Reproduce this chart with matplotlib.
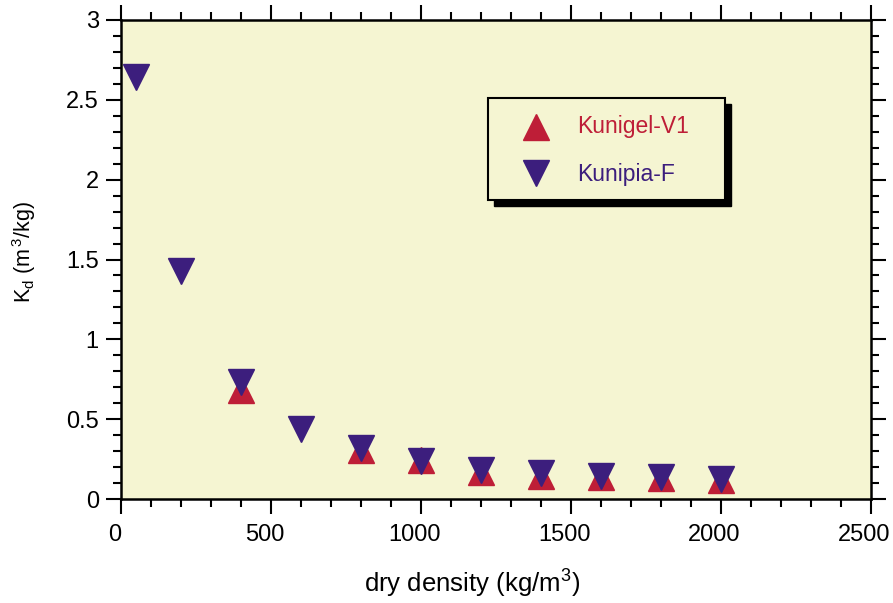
import matplotlib
matplotlib.use("Agg")
import matplotlib.pyplot as plt
from matplotlib.ticker import MultipleLocator
from matplotlib.patches import Rectangle
from matplotlib.lines import Line2D
from matplotlib.transforms import ScaledTranslation

plt.rcParams['font.family'] = ['Liberation Sans', 'DejaVu Sans']
plt.rcParams['mathtext.fontset'] = 'custom'
plt.rcParams['mathtext.rm'] = 'Liberation Sans'
plt.rcParams['mathtext.it'] = 'Liberation Sans'

# data
v1_density = [400, 800, 1000, 1200, 1400, 1600, 1800, 2000]
v1_kd = [0.68, 0.31, 0.245, 0.17, 0.145, 0.135, 0.13, 0.12]
f_density = [50, 200, 400, 600, 800, 1000, 1200, 1400, 1600, 1800, 2000]
f_kd = [2.64, 1.43, 0.73, 0.44, 0.32, 0.235, 0.18, 0.16, 0.145, 0.135, 0.125]
y_ticks = [0, 0.5, 1, 1.5, 2, 2.5, 3]
y_ticklabels = ['0', '0.5', '1', '1.5', '2', '2.5', '3']

red = '#BE1E37'
purple = '#3C1E7D'
bg = '#F5F5D2'

fig = plt.figure(figsize=(8.93, 6.03), dpi=100)
ax = fig.add_axes([121/893, 1-499/603, (870.5-121)/893, (499-20)/603])
ax.set_facecolor(bg)

ax.plot(v1_density, v1_kd, linestyle='none', marker='^', ms=19, color=red, mec=red)
ax.plot(f_density, f_kd, linestyle='none', marker='v', ms=19, color=purple, mec=purple)

ax.set_xlim(0, 2500)
ax.set_ylim(0, 3)
ax.xaxis.set_major_locator(MultipleLocator(500))
ax.xaxis.set_minor_locator(MultipleLocator(100))
ax.yaxis.set_minor_locator(MultipleLocator(0.1))
ax.set_yticks(y_ticks)
ax.set_yticklabels(y_ticklabels)
ax.tick_params(which='both', direction='out', top=True, right=True, labelsize=17,
               width=1.5, colors='black')
ax.tick_params(which='major', length=11)
ax.tick_params(which='minor', length=6)
ax.tick_params(axis='x', pad=7)
ax.tick_params(axis='y', pad=5)
for s in ax.spines.values():
    s.set_linewidth(1.8)

shift = ScaledTranslation(-6/100, 0, fig.dpi_scale_trans)
for lbl in ax.get_xticklabels():
    lbl.set_transform(lbl.get_transform() + shift)

ax.set_xlabel(r'dry density (kg/m$^{3}$)', fontsize=18.5)
ax.xaxis.set_label_coords((472-121)/749.5, (499-568)/479)
ax.set_ylabel(r'K$_{d}$ (m$^{\,3}$/kg)', fontsize=15.5)
ax.yaxis.set_label_coords((38-121)/749.5, (499-251.5)/479)

# legend box with shadow
x0, y0, w, h = 488, 98, 237, 102
def px2fig(x, y):
    return x/893, 1-y/603
sx, sy = px2fig(x0+6, y0+6+h)
fig.patches.append(Rectangle((sx, sy), w/893, h/603, transform=fig.transFigure,
                             facecolor='black', edgecolor='black', zorder=5))
bx, by = px2fig(x0, y0+h)
fig.patches.append(Rectangle((bx, by), w/893, h/603, transform=fig.transFigure,
                             facecolor=bg, edgecolor='black', linewidth=1.5, zorder=6))
mx1, my1 = px2fig(536, 127)
mx2, my2 = px2fig(536, 173)
fig.add_artist(Line2D([mx1], [my1], marker='^', ms=19, color=red, transform=fig.transFigure, zorder=7))
fig.add_artist(Line2D([mx2], [my2], marker='v', ms=19, color=purple, transform=fig.transFigure, zorder=7))
tx1, ty1 = px2fig(577, 127)
tx2, ty2 = px2fig(577, 174)
fig.text(tx1, ty1, 'Kunigel-V1', color=red, fontsize=16.5, va='center', ha='left', zorder=8)
fig.text(tx2, ty2, 'Kunipia-F', color=purple, fontsize=16.5, va='center', ha='left', zorder=8)

fig.savefig('out.png', dpi=100)
